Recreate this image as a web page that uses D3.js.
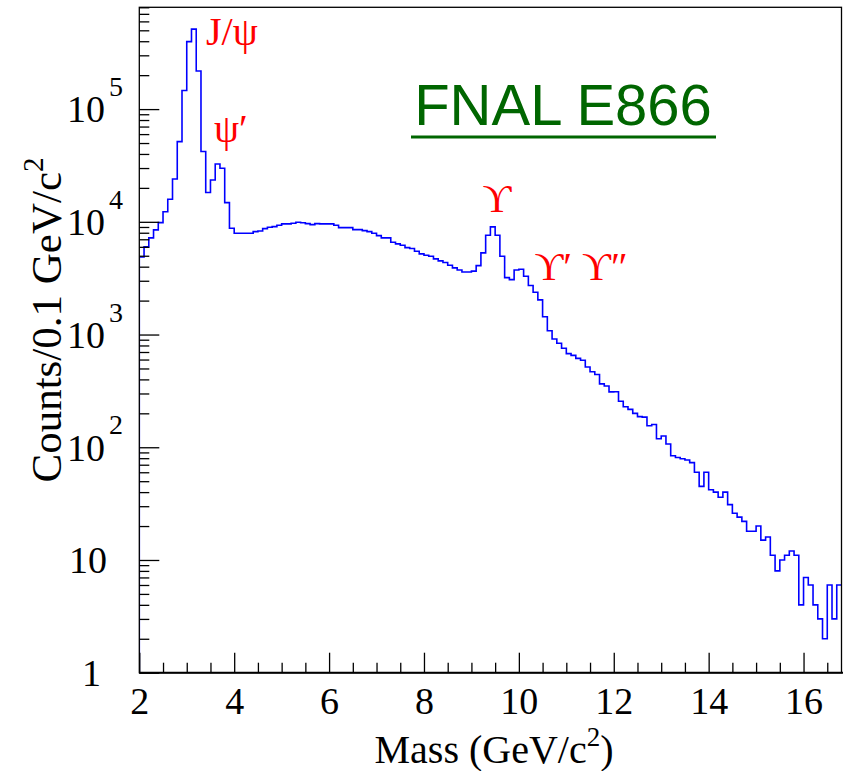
<!DOCTYPE html>
<html>
<head>
<meta charset="utf-8">
<script src="https://cdn.jsdelivr.net/npm/d3@7"></script>
<style>
  html, body { margin: 0; padding: 0; background: #fff; }
  svg { display: block; }
  .serif { font-family: "Liberation Serif", "Times New Roman", serif; }
  .sans { font-family: "Liberation Sans", Arial, sans-serif; }
</style>
</head>
<body>
<svg id="chart" width="843" height="771"></svg>
<script>
// Histogram definition: 0.1 GeV bins starting at 2.0 GeV
const massRange = [2.0, 16.8];
const binWidth = 0.1;

// Counts per bin (J/psi region, continuum, upsilon region, tail)
const countsLow = [
  4880, 5990, 7200, 8480, 9840, 12300, 15880, 24000, 51500, 146000,
  397000, 512000, 218000, 42000, 18200, 23500, 32600, 29900, 14800, 8780
];
const countsContinuum = [
  7920, 7920, 7920, 7920, 8190, 8300, 8710, 8960, 9070, 9330,
  9580, 9580, 9720, 9920, 9800, 9640, 9450, 9640, 9580, 9580,
  9580, 9330, 8890, 8890, 8890, 8530, 8530, 8360, 8190, 7920,
  7550, 7200, 7200, 6590, 6370, 6200, 5900, 5790, 5480, 5190,
  5050, 4950, 4690, 4500, 4350, 4120, 3900, 3740, 3590, 3590,
  3650
];
const countsUpsilon = [
  4090, 5300, 7600, 9010, 7600, 4950, 3200, 3070, 3740, 3800,
  3290, 2720, 2370, 2030, 1440, 1080, 914, 838, 756, 677,
  653, 614, 592, 516, 468, 442
];
const countsTail = [
  365, 350, 310, 311, 256, 229, 217, 200, 187, 185,
  155, 159, 119, 126, 107, 84, 81, 79, 77, 73,
  60, 45, 60, 42, 40, 36, 40, 31, 26, 24,
  22, 18, 18, 20, 15, 16, 11, 8, 10, 11,
  12, 11, 4, 7, 6, 4, 3, 2, 6, 3,
  6
];
const counts = [...countsLow, ...countsContinuum, ...countsUpsilon, ...countsTail];

const xMajorTicks = [2, 4, 6, 8, 10, 12, 14, 16];
const yDecades = [1, 10, 100, 1000, 10000, 100000];
const yMax = 8.0e5;

// Peak annotations (anchored in data coordinates)
const peakLabels = [
  {text: 'J/\u03c8', mass: 3.95, count: 3.7e5},
  {text: '\u03c8\u2032', mass: 3.93, count: 5.1e4},
  {text: '\u03d2', mass: 9.54, count: 1.22e4},
  {text: '\u03d2\u2032 \u03d2\u2033', mass: 11.31, count: 3.05e3}
];

const width = 843;
const height = 771;
const margin = {top: 7.3, right: 1.5, bottom: 98.3, left: 139.3};
const blue = '#0000ff';

const svg = d3.select('#chart');

const x = d3.scaleLinear()
  .domain(massRange)
  .range([margin.left, width - margin.right]);
const y = d3.scaleLog()
  .domain([1, yMax])
  .range([height - margin.bottom, margin.top]);

// minor ticks
const xMinor = d3.range(massRange[0], massRange[1] + 1e-9, 0.5)
  .filter((v) => !xMajorTicks.includes(v));
const yMinor = [];
yDecades.forEach((d) => {
  for (let k = 2; k <= 9; k++) {
    if (d * k <= yMax) yMinor.push(d * k);
  }
});

// histogram
const histPoints = [{m: massRange[0], c: 1}];
counts.forEach((c, i) => histPoints.push({m: massRange[0] + i * binWidth, c: c}));
histPoints.push({m: massRange[0] + counts.length * binWidth, c: counts[counts.length - 1]});

svg.append('clipPath').attr('id', 'frame')
  .append('rect')
  .attr('x', margin.left).attr('y', margin.top)
  .attr('width', width - margin.right - margin.left)
  .attr('height', height - margin.bottom - margin.top);

const line = d3.line()
  .x((d) => x(d.m))
  .y((d) => y(d.c))
  .curve(d3.curveStepAfter);

svg.append('path')
  .datum(histPoints)
  .attr('clip-path', 'url(#frame)')
  .attr('fill', 'none')
  .attr('stroke', blue)
  .attr('stroke-width', 1.6)
  .attr('d', line);

// axes (ticks point into the frame)
const plotBottom = height - margin.bottom;
svg.append('g')
  .attr('transform', `translate(0,${plotBottom})`)
  .call(d3.axisBottom(x).tickValues(xMinor).tickSize(-10).tickFormat(''))
  .call((g) => g.select('.domain').remove());
const xAxisG = svg.append('g')
  .attr('transform', `translate(0,${plotBottom})`)
  .call(d3.axisBottom(x).tickValues(xMajorTicks).tickSize(-20).tickPadding(14)
    .tickFormat(d3.format('d')));
xAxisG.select('.domain').remove();
xAxisG.selectAll('text')
  .attr('class', 'serif')
  .attr('font-size', 38)
  .attr('fill', '#000');

svg.append('g')
  .attr('transform', `translate(${margin.left},0)`)
  .call(d3.axisLeft(y).tickValues(yMinor).tickSize(-10).tickFormat(''))
  .call((g) => g.select('.domain').remove());
svg.append('g')
  .attr('transform', `translate(${margin.left},0)`)
  .call(d3.axisLeft(y).tickValues(yDecades).tickSize(-20).tickFormat(''))
  .call((g) => g.select('.domain').remove());

svg.selectAll('.tick line').attr('stroke', '#000').attr('stroke-width', 1.3);

// frame
svg.append('rect')
  .attr('x', margin.left).attr('y', margin.top)
  .attr('width', width - margin.right - margin.left)
  .attr('height', plotBottom - margin.top)
  .attr('fill', 'none')
  .attr('stroke', '#000')
  .attr('stroke-width', 1.3);
svg.append('line')
  .attr('x1', margin.left).attr('x2', width)
  .attr('y1', plotBottom).attr('y2', plotBottom)
  .attr('stroke', '#000').attr('stroke-width', 2);

// y tick labels, ROOT style 10^n
const yLabels = svg.append('g')
  .attr('class', 'serif')
  .attr('font-size', 38)
  .attr('fill', '#000');
yDecades.forEach((d) => {
  const p = Math.round(Math.log10(d));
  const t = yLabels.append('text')
    .attr('y', y(d))
    .attr('dy', '0.35em');
  if (p <= 1) {
    t.attr('x', p === 0 ? 101 : 107).attr('text-anchor', 'end').text(d);
  } else {
    t.attr('x', 105).attr('text-anchor', 'end').text('10');
    yLabels.append('text')
      .attr('x', 109)
      .attr('y', y(d) - 13)
      .attr('font-size', 28)
      .text(p);
  }
});

// axis titles
const xTitle = svg.append('text')
  .attr('class', 'serif')
  .attr('x', 494)
  .attr('y', 763)
  .attr('text-anchor', 'middle')
  .attr('font-size', 40);
xTitle.append('tspan').text('Mass (GeV/c');
xTitle.append('tspan').attr('font-size', 27).attr('dy', -17).text('2');
xTitle.append('tspan').attr('dy', 17).text(')');

const yTitle = svg.append('text')
  .attr('class', 'serif')
  .attr('transform', 'translate(61,320) rotate(-90)')
  .attr('text-anchor', 'middle')
  .attr('font-size', 43);
yTitle.append('tspan').text('Counts/0.1 GeV/c');
yTitle.append('tspan').attr('font-size', 29).attr('dy', -18).text('2');

// peak labels
svg.append('g')
  .attr('class', 'serif')
  .selectAll('text')
  .data(peakLabels)
  .join('text')
  .attr('x', (d) => x(d.mass))
  .attr('y', (d) => y(d.count))
  .attr('text-anchor', 'middle')
  .attr('font-size', 40)
  .attr('fill', '#ff0000')
  .text((d) => d.text);

// experiment label
svg.append('text')
  .attr('class', 'sans')
  .attr('x', 563)
  .attr('y', 125)
  .attr('text-anchor', 'middle')
  .attr('font-size', 58)
  .attr('fill', '#006600')
  .text('FNAL E866');
svg.append('line')
  .attr('x1', 411).attr('x2', 716)
  .attr('y1', 137).attr('y2', 137)
  .attr('stroke', '#006600')
  .attr('stroke-width', 3);
</script>
</body>
</html>
